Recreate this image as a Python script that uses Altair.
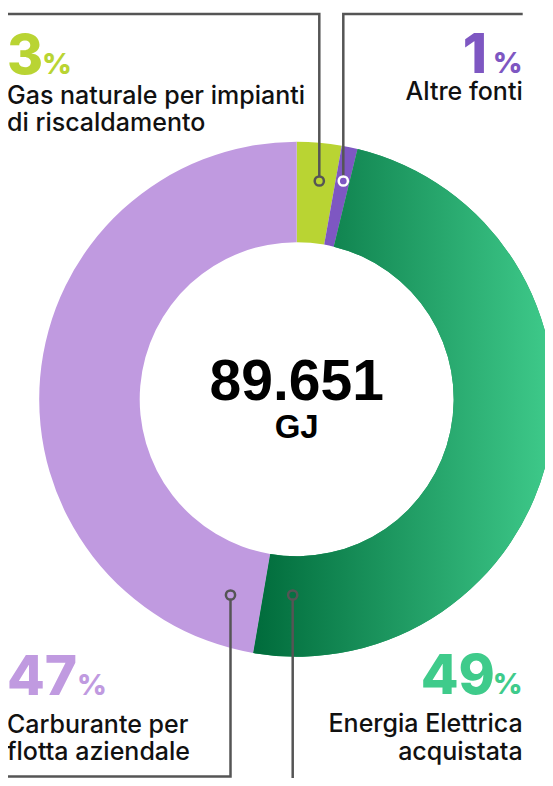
import altair as alt
import pandas as pd

# ---- data ----
categories = [
    "Gas naturale per impianti di riscaldamento",
    "Altre fonti",
    "Energia Elettrica acquistata",
    "Carburante per flotta aziendale",
]
shares = [2.8, 1.0, 48.9, 47.3]
pct_labels = ["3", "1", "49", "47"]
slice_colors = ["#b9d433", "#7e57c2", "#1f9a5f", "#c09ae0"]
pct_colors = ["#b9d433", "#7e57c2", "#3fcb8b", "#c09ae0"]
label_lines = [
    ["Gas naturale per impianti", "di riscaldamento"],
    ["Altre fonti"],
    ["Energia Elettrica", "acquistata"],
    ["Carburante per", "flotta aziendale"],
]
total_value = "89.651"
total_unit = "GJ"

# ---- layout (pixels) ----
CX, CY = 288.7, 391.2
R_OUT, R_IN = 257.5, 157
W, H = 537, 770

slices = pd.DataFrame({"name": categories, "share": shares, "idx": range(4)})

base = alt.Chart(slices).encode(
    theta=alt.Theta("share:Q", stack=True),
    order=alt.Order("idx:Q"),
    x=alt.value(CX),
    y=alt.value(CY),
)
ring = base.mark_arc(outerRadius=R_OUT, innerRadius=R_IN, strokeWidth=0).encode(
    color=alt.Color("name:N", scale=alt.Scale(domain=categories, range=slice_colors), legend=None)
)
grad = alt.Gradient(
    gradient="linear",
    stops=[alt.GradientStop(color="#006b3b", offset=0), alt.GradientStop(color="#3fcb8b", offset=1)],
    x1=0, x2=1, y1=0, y2=0,
)
ring_grad = base.mark_arc(outerRadius=R_OUT, innerRadius=R_IN, strokeWidth=0, color=grad).encode(
    opacity=alt.condition(alt.datum.name == categories[2], alt.value(1), alt.value(0))
)

# leader lines
paths = pd.DataFrame([
    ("gas", 0, 0, 6), ("gas", 1, 311.3, 6), ("gas", 2, 311.3, 173),
    ("alt", 0, 514.7, 6), ("alt", 1, 335.3, 6), ("alt", 2, 335.3, 173),
    ("car", 0, 222.5, 587), ("car", 1, 222.5, 768.5), ("car", 2, 0, 768.5),
    ("ene", 0, 284.7, 587), ("ene", 1, 284.7, 772),
], columns=["path", "seq", "x", "y"])
lines = alt.Chart(paths).mark_line(stroke="#555555", strokeWidth=2.5, strokeJoin="miter").encode(
    x=alt.X("x:Q", scale=None), y=alt.Y("y:Q", scale=None),
    detail="path:N", order="seq:Q",
)

dots = pd.DataFrame({
    "x": [311.3, 335.3, 222.5, 284.7],
    "y": [173, 173, 587, 587],
    "fill": ["#b9d433", "#7e57c2", "#c09ae0", "#087043"],
    "stroke": ["#555555", "#ffffff", "#555555", "#555555"],
})
circles = alt.Chart(dots).mark_point(shape="circle", size=85, strokeWidth=2.5, opacity=1, fillOpacity=1).encode(
    x=alt.X("x:Q", scale=None), y=alt.Y("y:Q", scale=None),
    fill=alt.Fill("fill:N", scale=None), stroke=alt.Stroke("stroke:N", scale=None),
)

# text annotations: (text, x, y, kind, color)
rows = []
rows.append((pct_labels[0], -1, 66, "num_l", pct_colors[0]))
rows.append(("%", 34, 66, "pct_l", pct_colors[0]))
rows.append((pct_labels[1], 479, 65, "num_r", pct_colors[1]))
rows.append(("%", 514.7, 65, "pct_r", pct_colors[1]))
rows.append((pct_labels[2], 487, 686, "num_r", pct_colors[2]))
rows.append(("%", 514.7, 686, "pct_r", pct_colors[2]))
rows.append((pct_labels[3], -1, 687, "num_l", pct_colors[3]))
rows.append(("%", 69, 687, "pct_l", pct_colors[3]))
for i, t in enumerate(label_lines[0]):
    rows.append((t, -1, 96 + 27 * i, "lab_l", "#111111"))
for i, t in enumerate(label_lines[1]):
    rows.append((t, 514.7, 92 + 27 * i, "lab_r", "#111111"))
for i, t in enumerate(label_lines[2]):
    rows.append((t, 514.7, 724 + 28 * i, "lab_r", "#111111"))
for i, t in enumerate(label_lines[3]):
    rows.append((t, -1, 725 + 27 * i, "lab_l", "#111111"))
rows.append((total_value, CX, 392, "big", "#000000"))
rows.append((total_unit, CX, 430, "unit", "#000000"))
texts = pd.DataFrame(rows, columns=["text", "x", "y", "kind", "color"])

styles = {
    "num_l": dict(font="Inter", fontSize=55, fontWeight=800, align="left"),
    "num_r": dict(font="Inter", fontSize=55, fontWeight=800, align="right"),
    "pct_l": dict(font="Inter", fontSize=29, fontWeight=800, align="left"),
    "pct_r": dict(font="Inter", fontSize=29, fontWeight=800, align="right"),
    "lab_l": dict(font="Inter", fontSize=25, fontWeight=500, align="left"),
    "lab_r": dict(font="Inter", fontSize=25, fontWeight=500, align="right"),
    "big": dict(font="Liberation Sans", fontSize=57, fontWeight="bold", align="center"),
    "unit": dict(font="Liberation Sans", fontSize=33, fontWeight="bold", align="center"),
}
text_layers = []
for kind, st in styles.items():
    text_layers.append(
        alt.Chart(texts).transform_filter(alt.datum.kind == kind)
        .mark_text(baseline="alphabetic", **st)
        .encode(x=alt.X("x:Q", scale=None), y=alt.Y("y:Q", scale=None),
                text="text:N", color=alt.Color("color:N", scale=None))
    )

chart = alt.layer(ring, ring_grad, lines, circles, *text_layers).properties(
    width=W, height=H, padding=0, autosize=alt.AutoSizeParams(type="none")
).configure_view(stroke=None)

chart.save("out.html", embed_options={"renderer": "svg", "actions": False})
